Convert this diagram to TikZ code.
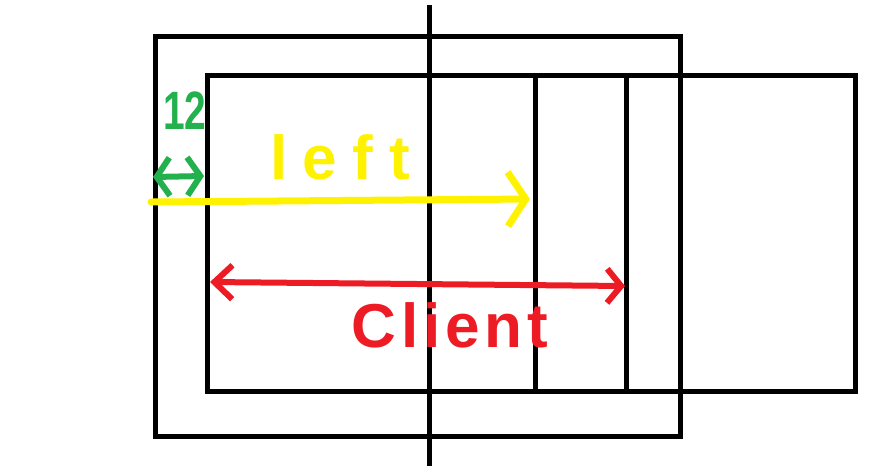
\documentclass[tikz,border=0pt]{standalone}
\usepackage{fontspec}
\usepackage{graphicx}
\setmainfont{Liberation Sans}
\usetikzlibrary{arrows.meta}
\definecolor{pyellow}{HTML}{FFF200}
\definecolor{pred}{HTML}{ED1C24}
\definecolor{pgreen}{HTML}{22B14C}
\tikzset{
  frame/.style={draw=black, line width=5pt},
  yarrow/.style={draw=pyellow, line width=7pt, line cap=round, line join=round, -{Straight Barb[length=18pt,width=54pt,line width=7pt]}},
  rarrow/.style={draw=pred, line width=6pt, line cap=round, line join=round, {Straight Barb[length=18pt,width=34pt,line width=6pt]}-{Straight Barb[length=14pt,width=34pt,line width=6pt]}},
  garrow/.style={draw=pgreen, line width=6pt, line cap=round, line join=round, {Straight Barb[length=13pt,width=38pt,line width=6pt]}-{Straight Barb[length=13pt,width=38pt,line width=6pt]}},
  lbl/.style={inner sep=0pt, font=\fontsize{62}{62}\selectfont\bfseries}
}
\begin{document}
\begin{tikzpicture}[x=1pt,y=-1pt]
\useasboundingbox[fill=white] (0,0) rectangle (872,467);
% frames
\draw[frame] (155,36) rectangle (680,436);
\draw[frame] (207,75) rectangle (855,391);
\coordinate (v1t) at (535,75); \coordinate (v1b) at (535,391);
\coordinate (v2t) at (626,75); \coordinate (v2b) at (626,391);
\draw[frame] (v1t) -- (v1b);
\draw[frame] (v2t) -- (v2b);
\coordinate (axt) at (429,5); \coordinate (axb) at (429,466);
\draw[frame] (axt) -- (axb);
% yellow arrow
\coordinate (ys) at (151,202); \coordinate (ye) at (530,199);
\draw[yarrow] (ys) -- (ye);
\node[lbl, text=pyellow] (left) at (340,157) {\addfontfeature{LetterSpace=25}left};
% red arrow
\coordinate (rs) at (210,282); \coordinate (re) at (625,286);
\draw[rarrow] (rs) -- (re);
\node[lbl, text=pred] (client) at (450,325) {\addfontfeature{LetterSpace=8}Client};
% green
\coordinate (gs) at (153,177); \coordinate (ge) at (204,176);
\draw[garrow] (gs) -- (ge);
\node[inner sep=0pt, text=pgreen, font=\fontsize{54}{54}\selectfont\bfseries] (twelve) at (185,111) {\scalebox{0.72}[1]{12}};
\end{tikzpicture}
\end{document}
